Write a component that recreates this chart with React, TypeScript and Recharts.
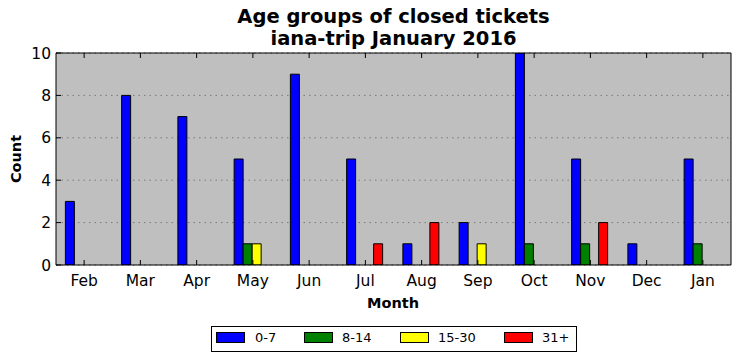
import React from 'react';
import { BarChart, Bar, XAxis, YAxis, CartesianGrid, Legend } from 'recharts';

const months = ['Feb', 'Mar', 'Apr', 'May', 'Jun', 'Jul', 'Aug', 'Sep', 'Oct', 'Nov', 'Dec', 'Jan'];
const age0to7 = [3, 8, 7, 5, 9, 5, 1, 2, 10, 5, 1, 5];
const age8to14 = [0, 0, 0, 1, 0, 0, 0, 0, 1, 1, 0, 1];
const age15to30 = [0, 0, 0, 1, 0, 0, 0, 1, 0, 0, 0, 0];
const age31plus = [0, 0, 0, 0, 0, 1, 2, 0, 0, 2, 0, 0];
const yTicks = [0, 2, 4, 6, 8, 10];

const seriesKeys = ['a', 'b', 'c', 'd'];
const seriesNames = ['0-7', '8-14', '15-30', '31+'];
const seriesColors = ['#0000ff', '#008000', '#ffff00', '#ff0000'];

const data = months.map((month, i) => ({
  month,
  a: age0to7[i],
  b: age8to14[i],
  c: age15to30[i],
  d: age31plus[i],
}));

const FONT = '"DejaVu Sans", sans-serif';
const tickStyle = { fontFamily: FONT, fontSize: 15.5, fill: '#000' };

// legend entry offsets inside the box (px from box left)
const legendPatchX = [4, 92, 188, 292];
const legendTextX = [43, 130, 226, 330];

const renderLegend = () => (
  <div
    style={{
      position: 'relative',
      boxSizing: 'border-box',
      width: 366,
      height: 26,
      border: '1px solid #000',
      background: '#fff',
      fontFamily: FONT,
      fontSize: 13,
      color: '#000',
      whiteSpace: 'nowrap',
    }}
  >
    {seriesNames.map((name, i) => (
      <React.Fragment key={name}>
        <span
          style={{
            position: 'absolute',
            left: legendPatchX[i],
            top: 5,
            boxSizing: 'border-box',
            width: 29,
            height: 11,
            border: '1px solid #000',
            background: seriesColors[i],
          }}
        />
        <span style={{ position: 'absolute', left: legendTextX[i], top: 3, lineHeight: '16px' }}>{name}</span>
      </React.Fragment>
    ))}
  </div>
);

export default function App() {
  return (
    <div style={{ position: 'absolute', left: 0, top: 0, width: 740, height: 361, background: '#fff' }}>
      <div
        style={{
          position: 'absolute',
          left: 56,
          width: 675,
          top: 6,
          textAlign: 'center',
          fontFamily: FONT,
          fontWeight: 'bold',
          fontSize: 19.5,
          lineHeight: '22px',
          color: '#000',
          zIndex: 2,
        }}
      >
        <div>Age groups of closed tickets</div>
        <div>iana-trip January 2016</div>
      </div>
      <div
        style={{
          position: 'absolute',
          left: 16,
          top: 159,
          transform: 'translate(-50%, -50%) rotate(-90deg)',
          fontFamily: FONT,
          fontWeight: 'bold',
          fontSize: 14.5,
          color: '#000',
          whiteSpace: 'nowrap',
          zIndex: 2,
        }}
      >
        Count
      </div>
      <div
        style={{
          position: 'absolute',
          left: 393,
          top: 303,
          transform: 'translate(-50%, -50%)',
          fontFamily: FONT,
          fontWeight: 'bold',
          fontSize: 14.5,
          color: '#000',
          whiteSpace: 'nowrap',
          zIndex: 2,
        }}
      >
        Month
      </div>
      <BarChart
        width={740}
        height={361}
        data={data}
        margin={{ top: 52, right: 8, bottom: 66, left: 0 }}
        barCategoryGap="16.67%"
        barGap={0}
      >
        <CartesianGrid
          vertical={false}
          fill="#bfbfbf"
          stroke="#7a7a7a"
          strokeDasharray="1.5 4"
          fillOpacity={1}
        />
        <XAxis
          dataKey="month"
          height={30}
          tick={tickStyle}
          tickSize={-5}
          tickMargin={15}
          tickLine={{ stroke: '#000' }}
          axisLine={{ stroke: '#000' }}
          interval={0}
        />
        <XAxis
          xAxisId="top"
          orientation="top"
          dataKey="month"
          height={1}
          tick={() => <g />}
          tickSize={-5}
          tickLine={{ stroke: '#000' }}
          axisLine={{ stroke: '#000' }}
          interval={0}
        />
        <YAxis
          width={56}
          domain={[0, 10]}
          ticks={yTicks}
          tick={tickStyle}
          tickSize={-5}
          tickMargin={10}
          tickLine={{ stroke: '#000' }}
          axisLine={{ stroke: '#000' }}
          allowDataOverflow
        />
        <YAxis
          yAxisId="right"
          orientation="right"
          width={1}
          domain={[0, 10]}
          ticks={yTicks}
          tick={() => <g />}
          tickSize={-5}
          tickLine={{ stroke: '#000' }}
          axisLine={{ stroke: '#000' }}
        />
        <Legend
          layout="horizontal"
          verticalAlign="middle"
          content={renderLegend}
          wrapperStyle={{ left: 211, top: 326, width: 366, height: 26 }}
        />
        {seriesKeys.map((key, i) => (
          <Bar
            key={key}
            dataKey={key}
            name={seriesNames[i]}
            fill={seriesColors[i]}
            stroke="#000"
            strokeWidth={1}
            isAnimationActive={false}
          />
        ))}
      </BarChart>
    </div>
  );
}
